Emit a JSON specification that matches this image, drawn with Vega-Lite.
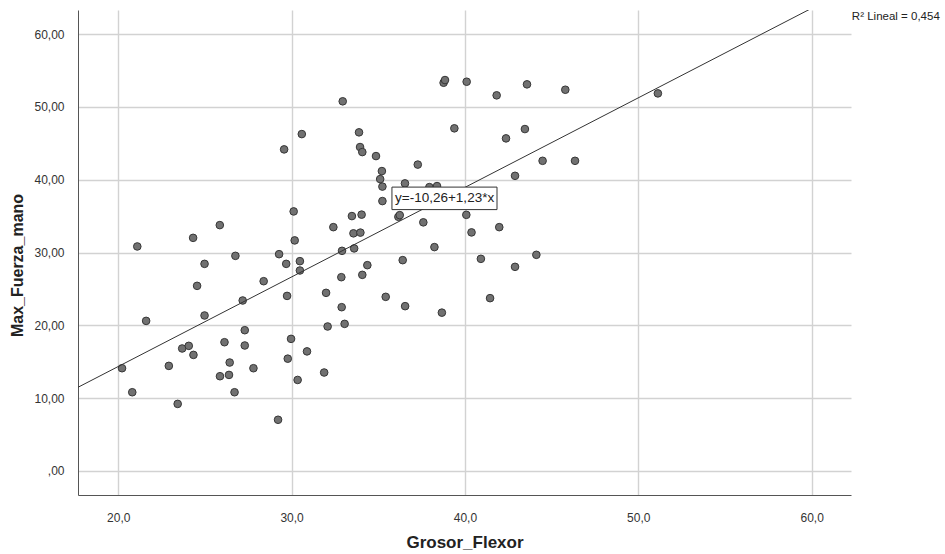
{
  "$schema": "https://vega.github.io/schema/vega-lite/v6.json",
  "width": 773,
  "height": 485,
  "autosize": "none",
  "padding": {"left": 78, "top": 10, "right": 94, "bottom": 59},
  "background": "white",
  "config": {
    "view": {"stroke": null},
    "font": "Liberation Sans",
    "axis": {
      "labelFont": "Liberation Sans",
      "labelFontSize": 12,
      "labelColor": "#333333",
      "titleFont": "Liberation Sans",
      "titleFontSize": 16,
      "titleFontWeight": "bold",
      "titleColor": "#222222",
      "domainColor": "#555555",
      "domainWidth": 1,
      "gridColor": "#d2d2d2",
      "gridWidth": 1.4,
      "ticks": false
    }
  },
  "datasets": {
    "casos": [
      {"Grosor_Flexor": 20.22, "Max_Fuerza_mano": 14.11},
      {"Grosor_Flexor": 20.81, "Max_Fuerza_mano": 10.81},
      {"Grosor_Flexor": 21.10, "Max_Fuerza_mano": 30.83},
      {"Grosor_Flexor": 21.61, "Max_Fuerza_mano": 20.61},
      {"Grosor_Flexor": 22.92, "Max_Fuerza_mano": 14.43},
      {"Grosor_Flexor": 23.43, "Max_Fuerza_mano": 9.21},
      {"Grosor_Flexor": 23.69, "Max_Fuerza_mano": 16.82},
      {"Grosor_Flexor": 24.07, "Max_Fuerza_mano": 17.18},
      {"Grosor_Flexor": 24.34, "Max_Fuerza_mano": 15.94},
      {"Grosor_Flexor": 24.32, "Max_Fuerza_mano": 32.01},
      {"Grosor_Flexor": 24.55, "Max_Fuerza_mano": 25.42},
      {"Grosor_Flexor": 24.98, "Max_Fuerza_mano": 28.44},
      {"Grosor_Flexor": 24.98, "Max_Fuerza_mano": 21.35},
      {"Grosor_Flexor": 25.86, "Max_Fuerza_mano": 33.76},
      {"Grosor_Flexor": 25.87, "Max_Fuerza_mano": 13.01},
      {"Grosor_Flexor": 26.13, "Max_Fuerza_mano": 17.68},
      {"Grosor_Flexor": 26.39, "Max_Fuerza_mano": 13.19},
      {"Grosor_Flexor": 26.43, "Max_Fuerza_mano": 14.89},
      {"Grosor_Flexor": 26.71, "Max_Fuerza_mano": 10.81},
      {"Grosor_Flexor": 26.76, "Max_Fuerza_mano": 29.54},
      {"Grosor_Flexor": 27.18, "Max_Fuerza_mano": 23.41},
      {"Grosor_Flexor": 27.30, "Max_Fuerza_mano": 19.33},
      {"Grosor_Flexor": 27.30, "Max_Fuerza_mano": 17.23},
      {"Grosor_Flexor": 27.80, "Max_Fuerza_mano": 14.11},
      {"Grosor_Flexor": 28.39, "Max_Fuerza_mano": 26.06},
      {"Grosor_Flexor": 29.22, "Max_Fuerza_mano": 7.03},
      {"Grosor_Flexor": 29.28, "Max_Fuerza_mano": 29.77},
      {"Grosor_Flexor": 29.57, "Max_Fuerza_mano": 44.16},
      {"Grosor_Flexor": 29.69, "Max_Fuerza_mano": 28.44},
      {"Grosor_Flexor": 29.74, "Max_Fuerza_mano": 24.04},
      {"Grosor_Flexor": 29.78, "Max_Fuerza_mano": 15.42},
      {"Grosor_Flexor": 29.97, "Max_Fuerza_mano": 18.14},
      {"Grosor_Flexor": 30.12, "Max_Fuerza_mano": 35.64},
      {"Grosor_Flexor": 30.18, "Max_Fuerza_mano": 31.66},
      {"Grosor_Flexor": 30.35, "Max_Fuerza_mano": 12.50},
      {"Grosor_Flexor": 30.48, "Max_Fuerza_mano": 27.53},
      {"Grosor_Flexor": 30.48, "Max_Fuerza_mano": 28.81},
      {"Grosor_Flexor": 30.59, "Max_Fuerza_mano": 46.26},
      {"Grosor_Flexor": 30.89, "Max_Fuerza_mano": 16.42},
      {"Grosor_Flexor": 31.88, "Max_Fuerza_mano": 13.52},
      {"Grosor_Flexor": 31.99, "Max_Fuerza_mano": 24.46},
      {"Grosor_Flexor": 32.08, "Max_Fuerza_mano": 19.84},
      {"Grosor_Flexor": 32.41, "Max_Fuerza_mano": 33.48},
      {"Grosor_Flexor": 32.89, "Max_Fuerza_mano": 22.49},
      {"Grosor_Flexor": 32.91, "Max_Fuerza_mano": 30.23},
      {"Grosor_Flexor": 32.87, "Max_Fuerza_mano": 26.61},
      {"Grosor_Flexor": 32.95, "Max_Fuerza_mano": 50.76},
      {"Grosor_Flexor": 33.06, "Max_Fuerza_mano": 20.20},
      {"Grosor_Flexor": 33.48, "Max_Fuerza_mano": 35.00},
      {"Grosor_Flexor": 33.57, "Max_Fuerza_mano": 32.63},
      {"Grosor_Flexor": 33.61, "Max_Fuerza_mano": 30.56},
      {"Grosor_Flexor": 33.89, "Max_Fuerza_mano": 46.50},
      {"Grosor_Flexor": 33.95, "Max_Fuerza_mano": 44.48},
      {"Grosor_Flexor": 33.97, "Max_Fuerza_mano": 32.73},
      {"Grosor_Flexor": 34.04, "Max_Fuerza_mano": 35.20},
      {"Grosor_Flexor": 34.08, "Max_Fuerza_mano": 43.79},
      {"Grosor_Flexor": 34.08, "Max_Fuerza_mano": 26.93},
      {"Grosor_Flexor": 34.37, "Max_Fuerza_mano": 28.26},
      {"Grosor_Flexor": 34.87, "Max_Fuerza_mano": 43.24},
      {"Grosor_Flexor": 35.11, "Max_Fuerza_mano": 40.08},
      {"Grosor_Flexor": 35.21, "Max_Fuerza_mano": 41.18},
      {"Grosor_Flexor": 35.24, "Max_Fuerza_mano": 39.05},
      {"Grosor_Flexor": 35.24, "Max_Fuerza_mano": 37.06},
      {"Grosor_Flexor": 35.43, "Max_Fuerza_mano": 23.91},
      {"Grosor_Flexor": 36.16, "Max_Fuerza_mano": 34.90},
      {"Grosor_Flexor": 36.24, "Max_Fuerza_mano": 35.13},
      {"Grosor_Flexor": 36.41, "Max_Fuerza_mano": 28.95},
      {"Grosor_Flexor": 36.54, "Max_Fuerza_mano": 39.49},
      {"Grosor_Flexor": 36.55, "Max_Fuerza_mano": 22.63},
      {"Grosor_Flexor": 37.28, "Max_Fuerza_mano": 42.07},
      {"Grosor_Flexor": 37.60, "Max_Fuerza_mano": 34.14},
      {"Grosor_Flexor": 37.95, "Max_Fuerza_mano": 38.98},
      {"Grosor_Flexor": 38.39, "Max_Fuerza_mano": 39.12},
      {"Grosor_Flexor": 38.24, "Max_Fuerza_mano": 30.74},
      {"Grosor_Flexor": 38.67, "Max_Fuerza_mano": 21.74},
      {"Grosor_Flexor": 38.77, "Max_Fuerza_mano": 53.31},
      {"Grosor_Flexor": 38.85, "Max_Fuerza_mano": 53.68},
      {"Grosor_Flexor": 39.39, "Max_Fuerza_mano": 47.05},
      {"Grosor_Flexor": 40.08, "Max_Fuerza_mano": 35.17},
      {"Grosor_Flexor": 40.10, "Max_Fuerza_mano": 53.45},
      {"Grosor_Flexor": 40.38, "Max_Fuerza_mano": 32.76},
      {"Grosor_Flexor": 40.92, "Max_Fuerza_mano": 29.13},
      {"Grosor_Flexor": 41.45, "Max_Fuerza_mano": 23.73},
      {"Grosor_Flexor": 41.83, "Max_Fuerza_mano": 51.58},
      {"Grosor_Flexor": 41.98, "Max_Fuerza_mano": 33.48},
      {"Grosor_Flexor": 42.37, "Max_Fuerza_mano": 45.67},
      {"Grosor_Flexor": 42.89, "Max_Fuerza_mano": 40.53},
      {"Grosor_Flexor": 42.89, "Max_Fuerza_mano": 28.03},
      {"Grosor_Flexor": 43.46, "Max_Fuerza_mano": 46.95},
      {"Grosor_Flexor": 43.58, "Max_Fuerza_mano": 53.09},
      {"Grosor_Flexor": 44.12, "Max_Fuerza_mano": 29.68},
      {"Grosor_Flexor": 44.48, "Max_Fuerza_mano": 42.59},
      {"Grosor_Flexor": 45.79, "Max_Fuerza_mano": 52.35},
      {"Grosor_Flexor": 46.35, "Max_Fuerza_mano": 42.59},
      {"Grosor_Flexor": 51.13, "Max_Fuerza_mano": 51.85}
    ],
    "ajuste": [
      {"Grosor_Flexor": 17.68, "Max_Fuerza_mano": 11.49},
      {"Grosor_Flexor": 62.27, "Max_Fuerza_mano": 66.33}
    ],
    "ecuacion": [
      {"x": 35.79, "x2": 41.85, "y": 38.98, "y2": 35.89, "tx": 35.97, "ty": 37.42, "texto": "y=-10,26+1,23*x"}
    ],
    "r2": [
      {"x": 62.32, "y": 62.34, "texto": "R² Lineal = 0,454"}
    ]
  },
  "layer": [
    {
      "data": {"name": "casos"},
      "mark": {"type": "point", "shape": "circle", "filled": true, "size": 58, "fill": "#717171", "stroke": "#363636", "strokeWidth": 1, "opacity": 1},
      "encoding": {
        "x": {
          "field": "Grosor_Flexor", "type": "quantitative", "title": "Grosor_Flexor",
          "scale": {"domain": [17.68, 62.27], "nice": false, "zero": false},
          "axis": {
            "values": [20, 30, 40, 50, 60],
            "labelExpr": "replace(format(datum.value, '.1f'), '.', ',')",
            "labelPadding": 17,
            "titlePadding": 11,
            "titleFontSize": 17
          }
        },
        "y": {
          "field": "Max_Fuerza_mano", "type": "quantitative", "title": "Max_Fuerza_mano",
          "scale": {"domain": [-3.3, 63.3], "nice": false, "zero": false},
          "axis": {
            "values": [0, 10, 20, 30, 40, 50, 60],
            "labelExpr": "datum.value == 0 ? ',00' : replace(format(datum.value, '.2f'), '.', ',')",
            "labelPadding": 14,
            "titlePadding": 8,
            "titleY": 255
          }
        }
      }
    },
    {
      "data": {"name": "ajuste"},
      "mark": {"type": "line", "color": "#333333", "strokeWidth": 1, "clip": true},
      "encoding": {
        "x": {"field": "Grosor_Flexor", "type": "quantitative"},
        "y": {"field": "Max_Fuerza_mano", "type": "quantitative"}
      }
    },
    {
      "data": {"name": "ecuacion"},
      "mark": {"type": "rect", "fill": "white", "stroke": "#333333", "strokeWidth": 1},
      "encoding": {
        "x": {"field": "x", "type": "quantitative"},
        "x2": {"field": "x2"},
        "y": {"field": "y", "type": "quantitative"},
        "y2": {"field": "y2"}
      }
    },
    {
      "data": {"name": "ecuacion"},
      "mark": {"type": "text", "align": "left", "baseline": "middle", "fontSize": 13.5, "color": "#222222", "font": "Liberation Sans"},
      "encoding": {
        "x": {"field": "tx", "type": "quantitative"},
        "y": {"field": "ty", "type": "quantitative"},
        "text": {"field": "texto"}
      }
    },
    {
      "data": {"name": "r2"},
      "mark": {"type": "text", "align": "left", "baseline": "middle", "fontSize": 11.5, "color": "#222222", "font": "Liberation Sans", "clip": false},
      "encoding": {
        "x": {"field": "x", "type": "quantitative"},
        "y": {"field": "y", "type": "quantitative"},
        "text": {"field": "texto"}
      }
    }
  ]
}
